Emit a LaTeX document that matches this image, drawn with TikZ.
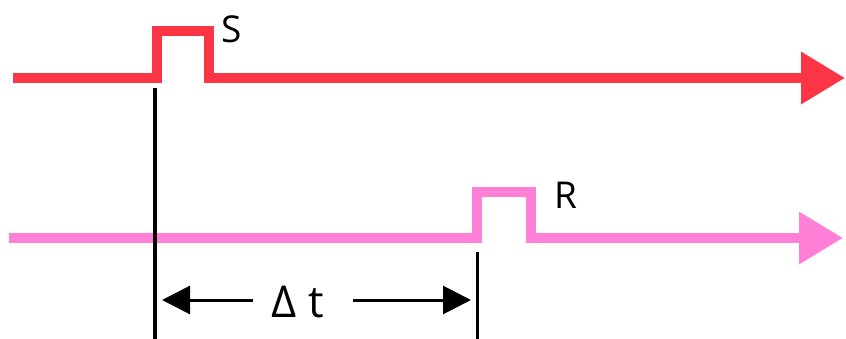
\documentclass[tikz,border=0pt]{standalone}
\usepackage{fontspec}
\setmainfont{Open Sans}
\usetikzlibrary{positioning, arrows.meta}
\definecolor{sigSend}{HTML}{FC3546}
\definecolor{sigRecv}{HTML}{FF80D6}
\begin{document}
\begin{tikzpicture}[x=1pt,y=-1pt,sig/.style={line width=10pt, line join=miter, -{Triangle[length=44pt,width=50pt]}},tickline/.style={line width=3.5pt, draw=black},dim/.style={line width=3pt, -{Triangle[length=28pt,width=28pt]}},lbl/.style={font=\fontsize{37}{44}\selectfont, inner sep=0pt}]
\useasboundingbox (0,0) rectangle (846,339);
% sender line with pulse S
\coordinate (s0) at (13,78); \coordinate (s1) at (157,78); \coordinate (s2) at (209,78); \coordinate (s3) at (845,78);
\draw[sig, draw=sigSend] (s0) -- (s1) -- (157,31) -- (209,31) -- (s2) -- (s3);
\node[lbl] (snd) at (232,29) {S};
% receiver line with pulse R
\coordinate (r0) at (9,238); \coordinate (r1) at (477,238); \coordinate (r2) at (531,238); \coordinate (r3) at (843,238);
\draw[sig, draw=sigRecv] (r0) -- (r1) -- (477,192) -- (531,192) -- (r2) -- (r3);
\node[lbl] (rcv) at (566,195) {R};
% delay marks
\coordinate (ta) at (155,88); \coordinate (tb) at (155,339);
\coordinate (ua) at (477.5,252); \coordinate (ub) at (477.5,339);
\draw[tickline] (ta) -- (tb); \draw[tickline] (ua) -- (ub);
\node[lbl, font=\fontsize{44}{50}\selectfont] (dt) at (298,302) {Δ t};
\coordinate (dl0) at (253,300); \coordinate (dl1) at (162,300);
\coordinate (dr0) at (353,300); \coordinate (dr1) at (471,300);
\draw[dim] (dl0) -- (dl1); \draw[dim] (dr0) -- (dr1);
\end{tikzpicture}
\end{document}
